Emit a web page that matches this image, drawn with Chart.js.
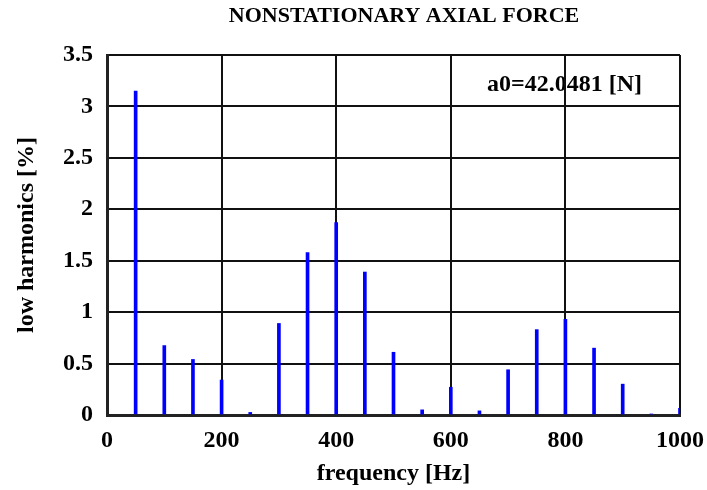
<!DOCTYPE html>
<html>
<head>
<meta charset="utf-8">
<script src="https://cdn.jsdelivr.net/npm/chart.js@4/dist/chart.umd.min.js"></script>
<style>
  html, body { margin: 0; padding: 0; background: #ffffff; }
  #wrap { width: 707px; height: 490px; position: relative; }
</style>
</head>
<body>
<div id="wrap"><canvas id="c" width="707" height="490"></canvas></div>
<script>
// ---- data ----
const chartTitle = "NONSTATIONARY AXIAL FORCE";
const annotationText = "a0=42.0481 [N]";
const xAxisTitle = "frequency [Hz]";
const yAxisTitle = "low harmonics [%]";
const frequencies = [50, 100, 150, 200, 250, 300, 350, 400, 450, 500,
                     550, 600, 650, 700, 750, 800, 850, 900, 950, 1000];
const harmonics   = [3.15, 0.675, 0.54, 0.34, 0.025, 0.89, 1.58, 1.87, 1.39, 0.61,
                     0.05, 0.27, 0.04, 0.44, 0.83, 0.93, 0.65, 0.30, 0.01, 0.065];
const xTickLabels = ["0", "200", "400", "600", "800", "1000"];
const yTickLabels = ["0", "0.5", "1", "1.5", "2", "2.5", "3", "3.5"];

const FONT = "'Liberation Serif', 'Times New Roman', serif";

const textPlugin = {
  id: 'textPlugin',
  beforeDraw(chart) {
    const ctx = chart.ctx;
    ctx.save();
    ctx.fillStyle = '#000';
    ctx.textBaseline = 'middle';
    ctx.textAlign = 'center';
    ctx.font = "bold 22px " + FONT;
    ctx.fillText(chartTitle, 404, 16);
    ctx.textAlign = 'left';
    ctx.font = "bold 24px " + FONT;
    ctx.fillText(annotationText, 487, 85);
    ctx.restore();
  }
};

new Chart(document.getElementById('c'), {
  type: 'bar',
  data: {
    datasets: [{
      data: frequencies.map((f, i) => ({ x: f, y: harmonics[i] })),
      backgroundColor: '#0000ff',
      borderWidth: 0,
      barThickness: 3
    }]
  },
  options: {
    responsive: false,
    animation: false,
    devicePixelRatio: 1,
    layout: { padding: { top: 55, right: 27, bottom: 0, left: 0 } },
    plugins: { legend: { display: false }, tooltip: { enabled: false }, title: { display: false } },
    scales: {
      x: {
        type: 'linear',
        min: 0, max: 1000,
        offset: false,
        afterFit(s) { s.height = 75; s.paddingLeft = 0; s.paddingRight = 0; },
        ticks: {
          stepSize: 200,
          color: '#000',
          padding: 11,
          maxRotation: 0,
          font: { family: FONT, size: 24, weight: 'bold' },
          callback: (v) => xTickLabels[Math.round(v / 200)]
        },
        grid: { color: '#111', lineWidth: 2, drawTicks: false, offset: false },
        border: { color: '#222', width: 3 },
        title: {
          display: true, text: xAxisTitle, color: '#000',
          font: { family: FONT, size: 24, weight: 'bold' },
          padding: { top: 0, bottom: 2 }
        }
      },
      y: {
        min: 0, max: 3.5,
        afterFit(s) { s.width = 107; },
        ticks: {
          stepSize: 0.5,
          color: '#000',
          padding: 14,
          font: { family: FONT, size: 24, weight: 'bold' },
          callback: (v) => yTickLabels[Math.round(v / 0.5)]
        },
        grid: { color: '#111', lineWidth: 2, drawTicks: false },
        border: { color: '#222', width: 3 },
        title: {
          display: true, text: yAxisTitle, color: '#000',
          font: { family: FONT, size: 24, weight: 'bold' },
          padding: { top: 12, bottom: 0 }
        }
      }
    }
  },
  plugins: [textPlugin]
});
</script>
</body>
</html>
